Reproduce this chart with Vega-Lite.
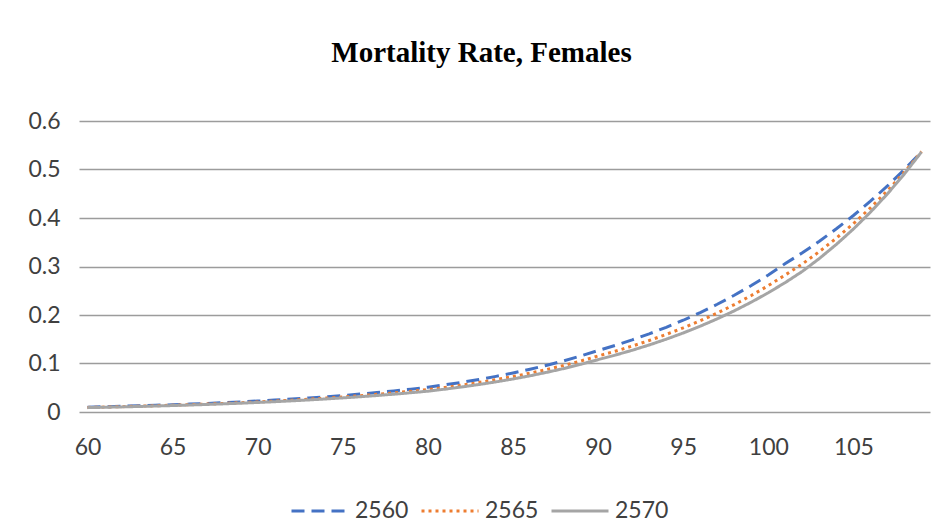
{
  "$schema": "https://vega.github.io/schema/vega-lite/v6.json",
  "autosize": "none",
  "width": 851,
  "height": 291,
  "padding": {"left": 79, "top": 121, "right": 19, "bottom": 112},
  "background": "white",
  "title": {
    "text": "Mortality Rate, Females",
    "font": "Liberation Serif",
    "fontSize": 29,
    "fontWeight": "bold",
    "color": "#000000",
    "baseline": "alphabetic",
    "anchor": "middle",
    "dx": -23,
    "offset": 19
  },
  "data": {
    "values": [
      {"age": 60, "2560": 0.01000, "2565": 0.00940, "2570": 0.00900},
      {"age": 61, "2560": 0.01085, "2565": 0.01018, "2570": 0.00973},
      {"age": 62, "2560": 0.01177, "2565": 0.01102, "2570": 0.01052},
      {"age": 63, "2560": 0.01277, "2565": 0.01194, "2570": 0.01138},
      {"age": 64, "2560": 0.01386, "2565": 0.01292, "2570": 0.01230},
      {"age": 65, "2560": 0.01504, "2565": 0.01400, "2570": 0.01330},
      {"age": 66, "2560": 0.01631, "2565": 0.01515, "2570": 0.01438},
      {"age": 67, "2560": 0.01770, "2565": 0.01641, "2570": 0.01555},
      {"age": 68, "2560": 0.01921, "2565": 0.01777, "2570": 0.01682},
      {"age": 69, "2560": 0.02084, "2565": 0.01925, "2570": 0.01818},
      {"age": 70, "2560": 0.02261, "2565": 0.02084, "2570": 0.01966},
      {"age": 71, "2560": 0.02453, "2565": 0.02257, "2570": 0.02126},
      {"age": 72, "2560": 0.02662, "2565": 0.02444, "2570": 0.02299},
      {"age": 73, "2560": 0.02888, "2565": 0.02647, "2570": 0.02486},
      {"age": 74, "2560": 0.03133, "2565": 0.02866, "2570": 0.02688},
      {"age": 75, "2560": 0.03400, "2565": 0.03104, "2570": 0.02907},
      {"age": 76, "2560": 0.03689, "2565": 0.03362, "2570": 0.03143},
      {"age": 77, "2560": 0.04002, "2565": 0.03640, "2570": 0.03399},
      {"age": 78, "2560": 0.04342, "2565": 0.03942, "2570": 0.03675},
      {"age": 79, "2560": 0.04712, "2565": 0.04269, "2570": 0.03974},
      {"age": 80, "2560": 0.05112, "2565": 0.04623, "2570": 0.04297},
      {"age": 81, "2560": 0.05598, "2565": 0.05066, "2570": 0.04712},
      {"age": 82, "2560": 0.06130, "2565": 0.05552, "2570": 0.05166},
      {"age": 83, "2560": 0.06712, "2565": 0.06084, "2570": 0.05665},
      {"age": 84, "2560": 0.07350, "2565": 0.06667, "2570": 0.06212},
      {"age": 85, "2560": 0.08048, "2565": 0.07306, "2570": 0.06811},
      {"age": 86, "2560": 0.08812, "2565": 0.08006, "2570": 0.07469},
      {"age": 87, "2560": 0.09650, "2565": 0.08774, "2570": 0.08190},
      {"age": 88, "2560": 0.10566, "2565": 0.09614, "2570": 0.08980},
      {"age": 89, "2560": 0.11570, "2565": 0.10536, "2570": 0.09847},
      {"age": 90, "2560": 0.12669, "2565": 0.11546, "2570": 0.10797},
      {"age": 91, "2560": 0.13727, "2565": 0.12525, "2570": 0.11723},
      {"age": 92, "2560": 0.14873, "2565": 0.13586, "2570": 0.12729},
      {"age": 93, "2560": 0.16115, "2565": 0.14739, "2570": 0.13821},
      {"age": 94, "2560": 0.17461, "2565": 0.15988, "2570": 0.15007},
      {"age": 95, "2560": 0.18919, "2565": 0.17344, "2570": 0.16294},
      {"age": 96, "2560": 0.20499, "2565": 0.18815, "2570": 0.17692},
      {"age": 97, "2560": 0.22210, "2565": 0.20410, "2570": 0.19210},
      {"age": 98, "2560": 0.24065, "2565": 0.22141, "2570": 0.20858},
      {"age": 99, "2560": 0.26075, "2565": 0.24019, "2570": 0.22648},
      {"age": 100, "2560": 0.28252, "2565": 0.26056, "2570": 0.24591},
      {"age": 101, "2560": 0.30611, "2565": 0.28265, "2570": 0.26701},
      {"age": 102, "2560": 0.32833, "2565": 0.30528, "2570": 0.28992},
      {"age": 103, "2560": 0.35217, "2565": 0.33079, "2570": 0.31653},
      {"age": 104, "2560": 0.37773, "2565": 0.35844, "2570": 0.34559},
      {"age": 105, "2560": 0.40516, "2565": 0.38845, "2570": 0.37732},
      {"age": 106, "2560": 0.43457, "2565": 0.42101, "2570": 0.41196},
      {"age": 107, "2560": 0.46612, "2565": 0.45631, "2570": 0.44977},
      {"age": 108, "2560": 0.49996, "2565": 0.49462, "2570": 0.49106},
      {"age": 109, "2560": 0.53626, "2565": 0.53700, "2570": 0.53614}
    ]
  },
  "transform": [
    {"fold": ["2560", "2565", "2570"], "as": ["series", "rate"]}
  ],
  "mark": {"type": "line", "strokeWidth": 3, "clip": false},
  "encoding": {
    "x": {
      "field": "age",
      "type": "quantitative",
      "scale": {"domain": [59.5, 109.5], "nice": false, "zero": false},
      "axis": {
        "title": null,
        "values": [60, 65, 70, 75, 80, 85, 90, 95, 100, 105],
        "grid": false,
        "ticks": false,
        "domain": false,
        "labelFont": "Lato",
        "labelFontSize": 23,
        "labelColor": "#404040",
        "labelPadding": 24,
        "labelBaseline": "top",
        "labelFlush": false
      }
    },
    "y": {
      "field": "rate",
      "type": "quantitative",
      "scale": {"domain": [0, 0.6], "nice": false},
      "axis": {
        "title": null,
        "values": [0, 0.1, 0.2, 0.3, 0.4, 0.5, 0.6],
        "format": ".1~f",
        "grid": true,
        "gridColor": "#9c9c9c",
        "gridWidth": 1.6,
        "ticks": false,
        "domain": false,
        "labelFont": "Lato",
        "labelFontSize": 23,
        "labelColor": "#404040",
        "labelPadding": 19
      }
    },
    "color": {
      "field": "series",
      "type": "nominal",
      "scale": {"domain": ["2560", "2565", "2570"], "range": ["#4472C4", "#ED7D31", "#A5A5A5"]},
      "legend": {
        "title": null,
        "orient": "none",
        "direction": "horizontal",
        "legendX": 211,
        "legendY": 360,
        "padding": 0,
        "symbolType": "stroke",
        "symbolSize": 3249,
        "symbolStrokeWidth": 3,
        "labelFont": "Lato",
        "labelFontSize": 23,
        "labelColor": "#404040",
        "labelOffset": 5,
        "columnPadding": 6
      }
    },
    "strokeDash": {
      "field": "series",
      "type": "nominal",
      "scale": {"domain": ["2560", "2565", "2570"], "range": [[13, 7], [3, 4], [1, 0]]},
      "legend": null
    },
    "strokeWidth": {
      "field": "series",
      "type": "nominal",
      "scale": {"domain": ["2560", "2565", "2570"], "range": [3, 3, 3.5]},
      "legend": null
    }
  },
  "config": {
    "view": {"stroke": null}
  }
}
